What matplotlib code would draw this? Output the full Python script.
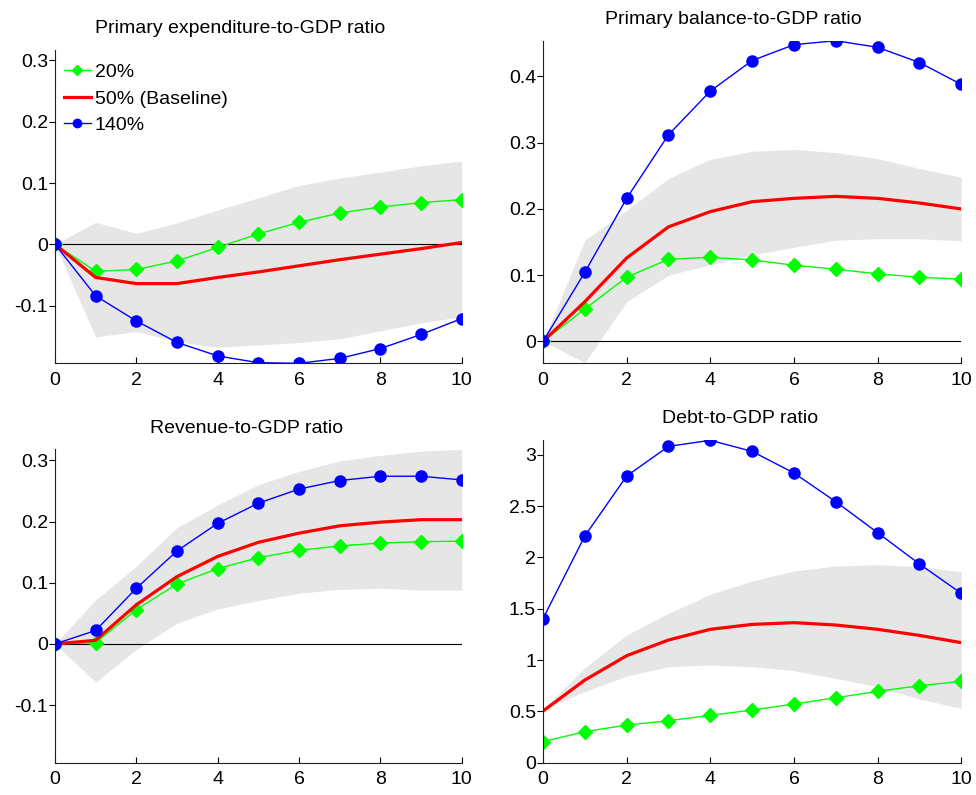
import numpy as np
import matplotlib
matplotlib.use("Agg")
import matplotlib.pyplot as plt
from matplotlib.ticker import FormatStrFormatter

plt.rcParams['font.family'] = ['Liberation Sans', 'DejaVu Sans']
plt.rcParams['axes.unicode_minus'] = False

h = np.arange(11)

# primary expenditure-to-GDP ratio
exp_20 = [0, -0.044, -0.041, -0.027, -0.005, 0.017, 0.036, 0.051, 0.061, 0.068, 0.073]
exp_50 = [0, -0.054, -0.064, -0.064, -0.054, -0.045, -0.035, -0.025, -0.016, -0.007, 0.003]
exp_140 = [0, -0.084, -0.125, -0.160, -0.182, -0.193, -0.194, -0.186, -0.170, -0.147, -0.121]
exp_hi = [0, 0.036, 0.018, 0.035, 0.056, 0.076, 0.096, 0.108, 0.118, 0.128, 0.136]
exp_lo = [0, -0.151, -0.142, -0.159, -0.168, -0.164, -0.160, -0.154, -0.141, -0.128, -0.118]

# primary balance-to-GDP ratio
bal_20 = [0, 0.049, 0.097, 0.124, 0.127, 0.123, 0.115, 0.109, 0.102, 0.097, 0.094]
bal_50 = [0, 0.060, 0.126, 0.173, 0.196, 0.211, 0.216, 0.219, 0.216, 0.209, 0.200]
bal_140 = [0, 0.1045, 0.216, 0.312, 0.378, 0.424, 0.448, 0.454, 0.444, 0.421, 0.388]
bal_hi = [0, 0.153, 0.198, 0.246, 0.275, 0.287, 0.290, 0.285, 0.276, 0.261, 0.248]
bal_lo = [0, -0.032, 0.060, 0.100, 0.116, 0.131, 0.142, 0.153, 0.155, 0.155, 0.152]

# revenue-to-GDP ratio
rev_20 = [0, 0.002, 0.056, 0.098, 0.123, 0.141, 0.153, 0.160, 0.165, 0.167, 0.168]
rev_50 = [0, 0.006, 0.064, 0.110, 0.143, 0.166, 0.181, 0.193, 0.199, 0.203, 0.203]
rev_140 = [0, 0.022, 0.091, 0.152, 0.197, 0.230, 0.253, 0.267, 0.274, 0.274, 0.268]
rev_hi = [0, 0.072, 0.127, 0.190, 0.227, 0.260, 0.282, 0.299, 0.308, 0.315, 0.318]
rev_lo = [0, -0.0625, -0.009, 0.034, 0.057, 0.071, 0.083, 0.089, 0.091, 0.088, 0.088]

# debt-to-GDP ratio
debt_20 = [0.205, 0.302, 0.367, 0.409, 0.461, 0.513, 0.571, 0.633, 0.695, 0.750, 0.792]
debt_50 = [0.503, 0.805, 1.042, 1.195, 1.299, 1.347, 1.364, 1.341, 1.299, 1.240, 1.169]
debt_140 = [1.403, 2.208, 2.792, 3.081, 3.140, 3.032, 2.821, 2.542, 2.240, 1.935, 1.649]
debt_hi = [0.52, 0.925, 1.244, 1.455, 1.640, 1.769, 1.867, 1.916, 1.929, 1.909, 1.860]
debt_lo = [0.52, 0.692, 0.844, 0.935, 0.951, 0.935, 0.896, 0.821, 0.740, 0.620, 0.529]

W, H = 976, 795
fig = plt.figure(figsize=(W / 100, H / 100), dpi=100)


def make_ax(l, r, t, b):
    return fig.add_axes([l / W, 1 - b / H, (r - l) / W, (b - t) / H])


panels = [
    (make_ax(55, 461.7, 50, 363.3), "Primary expenditure-to-GDP ratio", 0.455,
     exp_20, exp_50, exp_140, exp_hi, exp_lo, (-0.194, 0.317), [-0.1, 0, 0.1, 0.2, 0.3], True),
    (make_ax(543, 961.3, 40.7, 363.3), "Primary balance-to-GDP ratio", 0.455,
     bal_20, bal_50, bal_140, bal_hi, bal_lo, (-0.033, 0.454), [0, 0.1, 0.2, 0.3, 0.4], True),
    (make_ax(55, 461.7, 449.3, 762.7), "Revenue-to-GDP ratio", 0.471,
     rev_20, rev_50, rev_140, rev_hi, rev_lo, (-0.194, 0.318), [-0.1, 0, 0.1, 0.2, 0.3], True),
    (make_ax(543, 961.3, 440, 762.7), "Debt-to-GDP ratio", 0.472,
     debt_20, debt_50, debt_140, debt_hi, debt_lo, (0, 3.143), [0, 0.5, 1, 1.5, 2, 2.5, 3], False),
]

for ax, title, tx, s20, s50, s140, hi, lo, ylim, yt, zero in panels:
    ax.fill_between(h, lo, hi, color='#e6e6e6', linewidth=0)
    if zero:
        ax.plot([0, 10], [0, 0], color='k', lw=0.8)
    ax.plot(h, s20, color='#00ff00', lw=1, marker='D', ms=7, label='20%')
    ax.plot(h, s50, color='#ff0000', lw=2.3, label='50% (Baseline)')
    ax.plot(h, s140, color='#0000ff', lw=1, marker='o', ms=8, label='140%')
    ax.set_xlim(0, 10)
    ax.set_ylim(*ylim)
    ax.set_xticks([0, 2, 4, 6, 8, 10])
    ax.set_yticks(yt)
    ax.yaxis.set_major_formatter(FormatStrFormatter('%g'))
    ax.spines['top'].set_visible(False)
    ax.spines['right'].set_visible(False)
    for sp in ('left', 'bottom'):
        ax.spines[sp].set_linewidth(0.8)
        ax.spines[sp].set_color('#222222')
    ax.tick_params(axis='x', direction='in', length=4, width=0.8, labelsize=14, pad=6)
    ax.tick_params(axis='y', direction='out', length=4, width=0.8, labelsize=14, pad=1)
    ax.set_title(title, fontsize=14, x=tx, pad=12)
    for lbl in ax.get_xticklabels() + ax.get_yticklabels():
        lbl.set_clip_on(False)

ax1 = panels[0][0]
ax1.legend(loc='upper left', bbox_to_anchor=(-0.012, 1), frameon=False, fontsize=14,
           handlelength=1.4, handletextpad=0.2, labelspacing=0.45, borderaxespad=0.5,
           borderpad=0.2, markerscale=0.75)

fig.savefig('out.png', dpi=100)
